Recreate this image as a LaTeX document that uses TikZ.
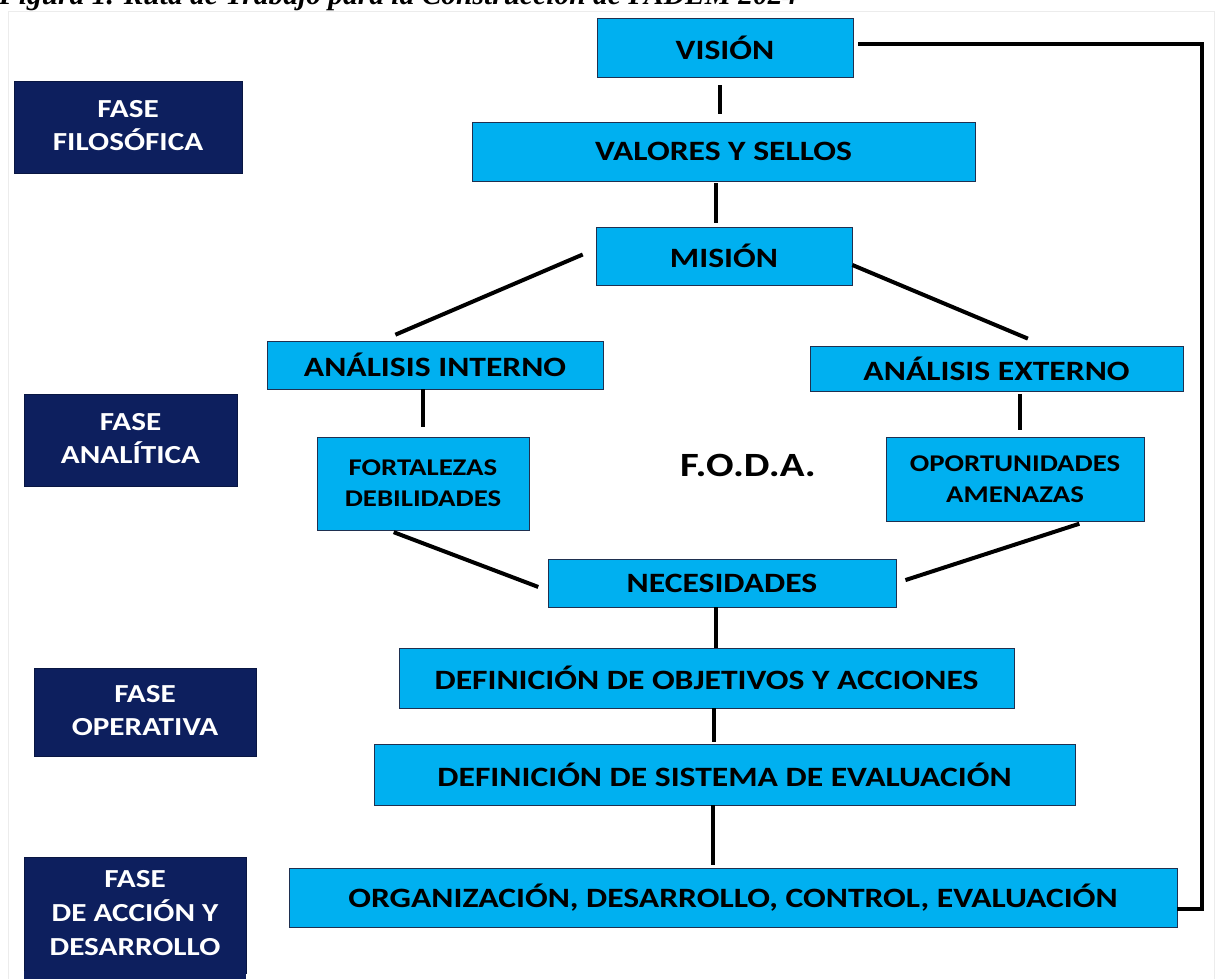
\documentclass[tikz,border=0pt]{standalone}
\usepackage{fontspec}
\setmainfont{Carlito}[FakeStretch=1.2]
\newfontfamily\capfont{Liberation Serif}
\usetikzlibrary{calc}
\definecolor{boxblue}{HTML}{00B0F0}
\definecolor{navy}{HTML}{0D1F5E}
\definecolor{edgecol}{HTML}{1F3050}
\newcommand\phasetext[2]{\raisebox{#1}{\begin{tabular}{@{}c@{}}#2\end{tabular}}}
\begin{document}
\begin{tikzpicture}[x=1pt,y=-1pt,
  fsz/.style 2 args={font=\bfseries\fontsize{#1}{#2}\selectfont},
  bluebox/.style={draw=edgecol, line width=0.8pt, fill=boxblue, text=black, inner sep=0pt, align=center},
  darkbox/.style={draw=navy!70!black, line width=0.8pt, fill=navy, text=white, inner sep=0pt},
  conn/.style={line width=4pt, black}]
\useasboundingbox (0,0) rectangle (1215,979);
\fill[white] (0,0) rectangle (1215,979);
\draw[gray!15, line width=1pt] (8,12) rectangle (1214,990);
\node[anchor=base west, inner sep=0pt, font=\capfont\bfseries\itshape\fontsize{29.5}{30}\selectfont] (cap) at (-1,5) {Figura 1. Ruta de Trabajo para la Construcción de PADEM 2024};

% phase boxes
\node[darkbox, minimum width=228pt, minimum height=92pt, fsz={26}{33}] (f1) at (128,127) {\phasetext{6pt}{FASE\\FILOSÓFICA}};
\node[darkbox, minimum width=213pt, minimum height=92pt, fsz={26}{33}] (f2) at (130.5,440) {\phasetext{6pt}{FASE\\ANALÍTICA}};
\node[darkbox, minimum width=222pt, minimum height=88pt, fsz={26}{33}] (f3) at (145,712) {\phasetext{3.5pt}{FASE\\OPERATIVA}};
\fill[navy] (24,900) rectangle (246,990);
\node[darkbox, minimum width=222pt, minimum height=116pt, fsz={26}{34}] (f4) at (135,915) {\phasetext{0pt}{FASE\\DE ACCIÓN Y\\DESARROLLO}};
\fill[navy] ($(f4.south west)+(0.4,-2)$) rectangle ($(f4.south east)+(-0.4,20)$);

% blue boxes
\node[bluebox, minimum width=256pt, minimum height=59pt, fsz={28}{30}] (vision) at (725,47.5) {VISIÓN};
\node[bluebox, minimum width=503pt, minimum height=59pt, fsz={28}{30}] (valores) at (723.5,151.5) {VALORES Y SELLOS};
\node[bluebox, minimum width=256pt, minimum height=58pt, fsz={28}{30}] (mision) at (724,256) {MISIÓN};
\node[bluebox, minimum width=336pt, minimum height=48pt, fsz={28}{30}] (aint) at (435,365) {ANÁLISIS INTERNO};
\node[bluebox, minimum width=373pt, minimum height=45pt, fsz={28}{30}] (aext) at (996.5,368.5) {ANÁLISIS EXTERNO};
\node[bluebox, minimum width=212pt, minimum height=93pt, fsz={24}{31}] (fort) at (423,483.5) {FORTALEZAS\\DEBILIDADES};
\node[bluebox, minimum width=258pt, minimum height=84pt, fsz={24}{31}] (opor) at (1015,479) {OPORTUNIDADES\\AMENAZAS};
\node[inner sep=0pt, fsz={34}{36}] (foda) at (748,465) {F.O.D.A.};
\node[bluebox, minimum width=348pt, minimum height=48pt, fsz={28}{30}] (nec) at (722,583) {NECESIDADES};
\node[bluebox, minimum width=615pt, minimum height=60pt, fsz={28}{30}] (obj) at (706.5,678) {DEFINICIÓN DE OBJETIVOS Y ACCIONES};
\node[bluebox, minimum width=701pt, minimum height=61pt, fsz={28}{30}] (sis) at (724.5,774.5) {DEFINICIÓN DE SISTEMA DE EVALUACIÓN};
\node[bluebox, minimum width=888pt, minimum height=59pt, fsz={28}{30}] (org) at (733,897.5) {ORGANIZACIÓN, DESARROLLO, CONTROL, EVALUACIÓN};

% vertical connectors
\coordinate (c1) at ($(vision.south)+(-5,0)$);
\draw[conn, shorten <=8pt, shorten >=8pt] (c1) -- (c1 |- valores.north);
\coordinate (c2) at ($(valores.south)+(-7.5,0)$);
\draw[conn, shorten <=2pt, shorten >=4pt] (c2) -- (c2 |- mision.north);
\draw[conn, shorten >=10pt] (fort.north |- aint.south) -- (fort.north);
\coordinate (c3) at ($(opor.north)+(5,0)$);
\draw[conn, shorten <=3pt, shorten >=7pt] (c3 |- aext.south) -- (c3);
\coordinate (c4) at ($(nec.south)+(-6,0)$);
\draw[conn] (c4) -- (c4 |- obj.north);
\coordinate (c5) at ($(obj.south)+(7.5,0)$);
\draw[conn, shorten >=2pt] (c5) -- (c5 |- sis.north);
\coordinate (c6) at ($(sis.south)+(-11.5,0)$);
\draw[conn, shorten >=3pt] (c6) -- (c6 |- org.north);

% slanted connectors
\draw[conn, shorten <=14pt, shorten >=15pt] ($(mision.west)+(0,-7)$) -- ($(aint.north west)+(115,0)$);
\draw[conn, shorten >=18pt] ($(mision.east)+(0,9)$) -- ($(aext.north)+(48,0)$);
\draw[conn, shorten <=5pt, shorten >=10pt] ($(fort.south)+(-34,0)$) -- ($(nec.west)+(0,7.5)$);
\draw[conn, shorten <=7.5pt, shorten >=9.5pt] ($(opor.south)+(71.5,0)$) -- (nec.east);

% feedback loop
\coordinate (rt) at (1202,0);
\coordinate (fbA) at ($(org.east)+(0,11.5)$);
\coordinate (fbD) at ($(vision.east)+(5,-3.5)$);
\draw[conn, line join=miter] (fbA) -- (fbA -| rt) -- (fbD -| rt) -- (fbD);
\end{tikzpicture}
\end{document}
